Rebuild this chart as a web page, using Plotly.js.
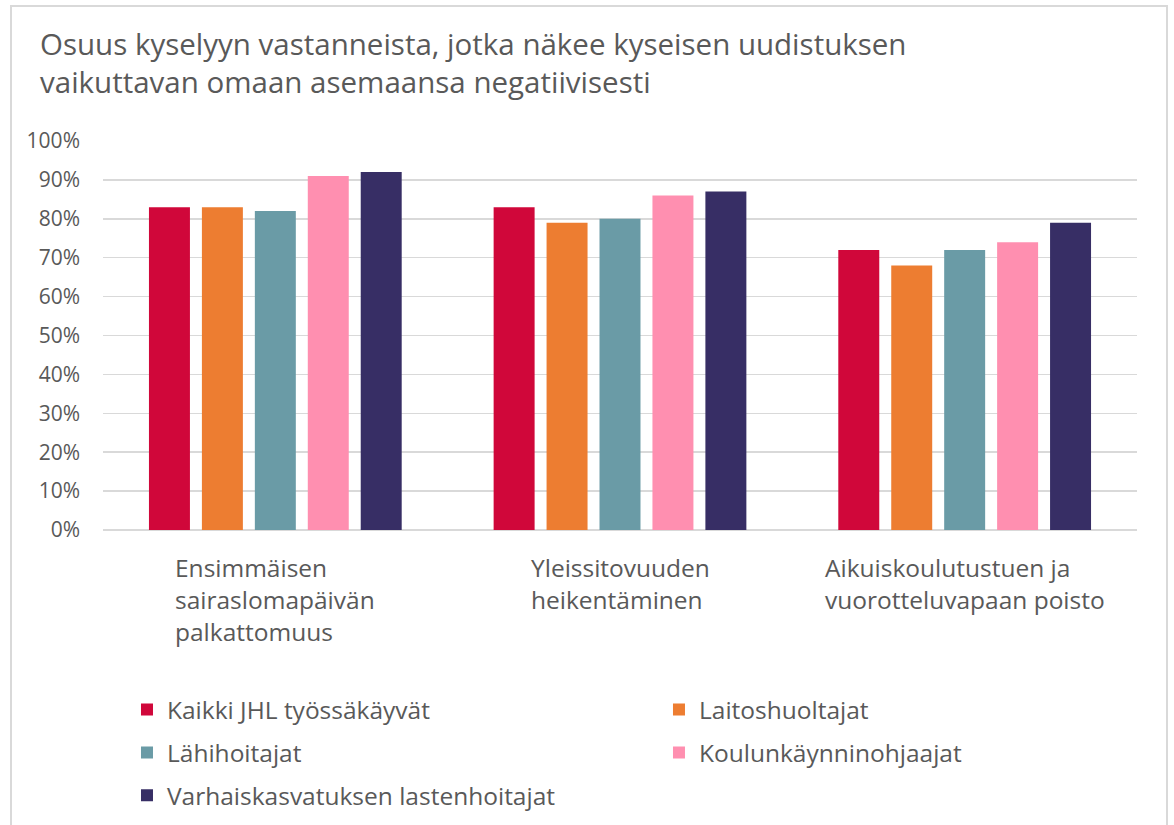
<!DOCTYPE html>
<html>
<head>
<meta charset="utf-8">
<script src="https://cdn.plot.ly/plotly-3.0.1.min.js"></script>
<style>
  html, body { margin: 0; padding: 0; background: #fff; overflow: hidden; }
  #frame { position: absolute; left: 10px; top: 5px; width: 1154px; height: 830px;
           border: 2px solid #d9d9d9; background: #fff; }
  #chart { width: 1154px; height: 818px; }
</style>
</head>
<body>
<div id="frame"><div id="chart"></div></div>
<script>
const categories = [
  "Ensimmäisen<br>sairaslomapäivän<br>palkattomuus",
  "Yleissitovuuden<br>heikentäminen",
  "Aikuiskoulutustuen ja<br>vuorotteluvapaan poisto"
];
const categoryKeys = ["c1", "c2", "c3"];
const seriesNames = [
  "Kaikki JHL työssäkäyvät",
  "Laitoshuoltajat",
  "Lähihoitajat",
  "Koulunkäynninohjaajat",
  "Varhaiskasvatuksen lastenhoitajat"
];
const kaikki = [83, 83, 72];
const laitoshuoltajat = [83, 79, 68];
const lahihoitajat = [82, 80, 72];
const koulunkaynninohjaajat = [91, 86, 74];
const varhaiskasvatus = [92, 87, 79];
const seriesValues = [kaikki, laitoshuoltajat, lahihoitajat, koulunkaynninohjaajat, varhaiskasvatus];
const colors = ["#D0073A", "#ED7D31", "#6A9BA6", "#FF8FB0", "#372E65"];
const legendColumn = ["legend", "legend2", "legend", "legend2", "legend"];
const yTicks = [0, 10, 20, 30, 40, 50, 60, 70, 80, 90, 100];

const FONT = "'Open Sans', sans-serif";
const TXT = "#595959";

const traces = seriesNames.map((name, i) => ({
  type: "bar",
  name: name,
  x: categoryKeys,
  y: seriesValues[i],
  marker: { color: colors[i] },
  legend: legendColumn[i],
  legendgroup: "g" + i,
  hoverinfo: "skip"
}));

const annotations = categoryKeys.map((k, i) => ({
  x: k, xref: "x",
  y: 0, yref: "paper",
  yanchor: "top", xanchor: "center",
  yshift: -19,
  align: "left",
  text: categories[i],
  showarrow: false,
  font: { family: FONT, size: 24.5, color: TXT }
}));

const legendBase = {
  orientation: "v",
  xanchor: "left",
  y: -0.404, yanchor: "top",
  traceorder: "grouped",
  tracegroupgap: 8,
  bgcolor: "rgba(0,0,0,0)",
  font: { family: FONT, size: 24.5, color: TXT }
};

const layout = {
  width: 1154, height: 818,
  margin: { l: 91, r: 29, t: 134, b: 295, autoexpand: false },
  paper_bgcolor: "#fff", plot_bgcolor: "#fff",
  font: { family: FONT, color: TXT },
  title: {
    text: "Osuus kyselyyn vastanneista, jotka näkee kyseisen uudistuksen<br>vaikuttavan omaan asemaansa negatiivisesti",
    x: 28 / 1154, xref: "container", xanchor: "left",
    y: 1 - 48 / 818, yref: "container", yanchor: "top",
    font: { family: FONT, size: 29.5, color: TXT }
  },
  barmode: "group",
  bargap: 0.232,
  bargroupgap: 0.226,
  xaxis: {
    type: "category",
    showticklabels: false,
    showgrid: false,
    showline: false,
    zeroline: false,
    ticks: ""
  },
  yaxis: {
    range: [0, 100],
    tickvals: yTicks,
    ticktext: yTicks.map(v => v + "%"),
    showgrid: true,
    gridcolor: "#d9d9d9",
    gridwidth: 1.5,
    zeroline: true,
    zerolinecolor: "#d9d9d9",
    zerolinewidth: 1.5,
    showline: false,
    ticks: "",
    ticklabelstandoff: 22,
    automargin: false,
    tickfont: { family: FONT, size: 21, color: TXT }
  },
  legend: Object.assign({}, legendBase, { x: 0.0232 }),
  legend2: Object.assign({}, legendBase, { x: 0.5377 }),
  annotations: annotations,
  showlegend: true
};

Plotly.newPlot("chart", traces, layout, { displayModeBar: false, staticPlot: true });
</script>
</body>
</html>
